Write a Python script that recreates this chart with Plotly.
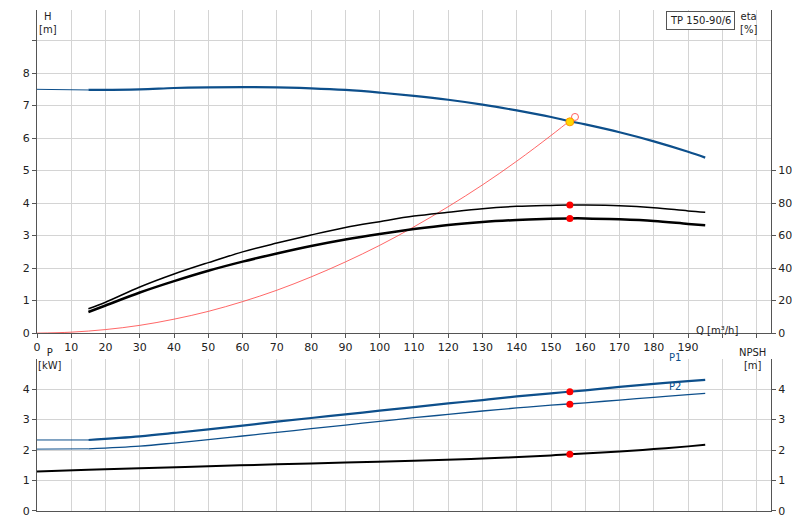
import plotly.graph_objects as go

BLUE = "#0d4f8b"
q_h = [0, 15, 30, 40, 50, 60, 70, 80, 90, 100, 110, 120, 130, 140, 150, 155, 160, 170, 180, 190, 195]
h = [7.5, 7.48, 7.5, 7.54, 7.56, 7.57, 7.56, 7.53, 7.48, 7.4, 7.3, 7.18, 7.03, 6.85, 6.65, 6.53, 6.42, 6.18, 5.9, 5.58, 5.4]
q_e = [15, 20, 30, 40, 50, 60, 70, 80, 90, 100, 110, 120, 130, 140, 150, 155, 160, 170, 180, 190, 195]
eta1 = [15, 19, 28.4, 36.4, 43.4, 50, 55.4, 60.4, 65, 68.6, 72, 74.4, 76.6, 78, 78.6, 78.8, 78.8, 78.4, 77.2, 75.2, 74.4]
eta2 = [13, 17, 25, 32, 38.4, 44, 49, 53.6, 57.6, 61, 64, 66.6, 68.4, 69.6, 70.4, 70.6, 70.6, 70, 69, 67.2, 66.4]
q_sys = [0, 10, 20, 30, 40, 50, 60, 70, 80, 90, 100, 110, 120, 130, 140, 150, 157]
h_sys = [0, 0.03, 0.11, 0.24, 0.43, 0.67, 0.97, 1.32, 1.73, 2.19, 2.7, 3.27, 3.89, 4.56, 5.29, 6.08, 6.66]
q_op = 155.5
h_op = 6.5
eta_op = [78.8, 70.6]
q_p = [15, 30, 40, 50, 60, 70, 80, 90, 100, 110, 120, 130, 140, 150, 160, 170, 180, 190, 195]
p1 = [2.33, 2.45, 2.56, 2.68, 2.8, 2.93, 3.05, 3.17, 3.29, 3.41, 3.53, 3.64, 3.76, 3.86, 3.96, 4.07, 4.17, 4.26, 4.3]
p2 = [2.04, 2.13, 2.23, 2.34, 2.46, 2.58, 2.7, 2.82, 2.94, 3.06, 3.17, 3.28, 3.38, 3.47, 3.55, 3.64, 3.73, 3.82, 3.86]
p_op = [3.91, 3.5]
q_n = [0, 15, 30, 50, 70, 90, 110, 130, 150, 155.5, 170, 180, 190, 195]
npsh = [1.3, 1.35, 1.4, 1.47, 1.53, 1.59, 1.65, 1.72, 1.82, 1.86, 1.95, 2.03, 2.12, 2.17]
npsh_op = 1.86
x_ticks = list(range(0, 220, 10))

fig = go.Figure()
ln = lambda c, w: dict(color=c, width=w)
fig.add_trace(go.Scatter(x=q_h[:2], y=h[:2], mode="lines", line=ln(BLUE, 1), xaxis="x", yaxis="y"))
fig.add_trace(go.Scatter(x=q_h[1:], y=h[1:], mode="lines", line=ln(BLUE, 2.2), line_shape="spline", xaxis="x", yaxis="y"))
fig.add_trace(go.Scatter(x=q_sys, y=h_sys, mode="lines", line=ln("#ff4040", 0.8), line_shape="spline", xaxis="x", yaxis="y"))
fig.add_trace(go.Scatter(x=q_e, y=eta1, mode="lines", line=ln("black", 1.5), line_shape="spline", xaxis="x", yaxis="y3"))
fig.add_trace(go.Scatter(x=q_e, y=eta2, mode="lines", line=ln("black", 2.5), line_shape="spline", xaxis="x", yaxis="y3"))
fig.add_trace(go.Scatter(x=[q_op, q_op], y=eta_op, mode="markers", marker=dict(color="red", size=7), xaxis="x", yaxis="y3"))
fig.add_trace(go.Scatter(x=[157], y=[6.65], mode="markers", marker=dict(color="white", size=7, line=dict(color="#ff6060", width=1)), xaxis="x", yaxis="y"))
fig.add_trace(go.Scatter(x=[q_op], y=[h_op], mode="markers", marker=dict(color="#ffd700", size=8, line=dict(color="#ff9900", width=1)), xaxis="x", yaxis="y"))

fig.add_trace(go.Scatter(x=[0, 15], y=[p1[0], p1[0]], mode="lines", line=ln(BLUE, 1), xaxis="x2", yaxis="y2"))
fig.add_trace(go.Scatter(x=q_p, y=p1, mode="lines", line=ln(BLUE, 2.2), line_shape="spline", xaxis="x2", yaxis="y2"))
fig.add_trace(go.Scatter(x=[0, 15], y=[2.03, p2[0]], mode="lines", line=ln(BLUE, 1), xaxis="x2", yaxis="y2"))
fig.add_trace(go.Scatter(x=q_p, y=p2, mode="lines", line=ln(BLUE, 1.3), line_shape="spline", xaxis="x2", yaxis="y2"))
fig.add_trace(go.Scatter(x=q_n, y=npsh, mode="lines", line=ln("black", 2), line_shape="spline", xaxis="x2", yaxis="y4"))
fig.add_trace(go.Scatter(x=[q_op, q_op], y=p_op, mode="markers", marker=dict(color="red", size=7), xaxis="x2", yaxis="y2"))
fig.add_trace(go.Scatter(x=[q_op], y=[npsh_op], mode="markers", marker=dict(color="red", size=7), xaxis="x2", yaxis="y4"))

ax = dict(showgrid=True, gridcolor="#d4d4d4", gridwidth=1, zeroline=False, showline=True, automargin=False,
          linecolor="#555", ticks="outside", ticklen=4, tickcolor="#555", tickfont=dict(size=11))
fig.update_layout(
    width=800, height=520, showlegend=False, plot_bgcolor="white", paper_bgcolor="white",
    margin=dict(l=29, r=37, t=2, b=17),
    font=dict(family="DejaVu Sans", size=10, color="#222"),
    xaxis=dict(ax, domain=[0, 1], range=[0, 214.2], tickvals=x_ticks,
               ticktext=[str(v) if v < 200 else "" for v in x_ticks], anchor="y"),
    yaxis=dict(ax, domain=[0.355, 1], range=[0, 9.94], tickvals=list(range(0, 10)),
               ticktext=[str(v) if v < 9 else "" for v in range(10)], anchor="x"),
    yaxis3=dict(ax, overlaying="y", side="right", range=[0, 198.8], tickvals=[0, 20, 40, 60, 80, 100],
                showgrid=False, anchor="x"),
    xaxis2=dict(ax, domain=[0, 1], range=[0, 214.2], tickvals=x_ticks, showticklabels=False, ticks="", anchor="y2"),
    yaxis2=dict(ax, domain=[0, 0.303], range=[0, 4.98], tickvals=[0, 1, 2, 3, 4], anchor="x2"),
    yaxis4=dict(ax, overlaying="y2", side="right", range=[0, 4.98], tickvals=[0, 1, 2, 3, 4],
                showgrid=False, anchor="x2"),
)
ann = [
    dict(x=12, y=14, text="H<br>[m]"), dict(x=776, y=14, text="eta<br>[%]"),
    dict(x=741, y=333, text="Q [m³/h]"), dict(x=14, y=362, text="P<br>[kW]"),
    dict(x=780, y=362, text="NPSH<br>[m]"),
    dict(x=695, y=361, text="P1", color=BLUE), dict(x=695, y=391, text="P2", color=BLUE),
]
for a in ann:
    fig.add_annotation(xref="paper", yref="paper", x=a["x"] / 800, y=1 - a["y"] / 520, text=a["text"],
                       showarrow=False, xanchor="center", yanchor="middle",
                       font=dict(color=a.get("color", "#222"), size=10))
fig.add_annotation(xref="paper", yref="paper", x=761 / 800, y=1 - 1 / 520, text="TP 150-90/6",
                   showarrow=False, xanchor="right", yanchor="top", bgcolor="white",
                   bordercolor="#555", borderwidth=1, borderpad=3, font=dict(size=10))
fig.write_html("out.html")
